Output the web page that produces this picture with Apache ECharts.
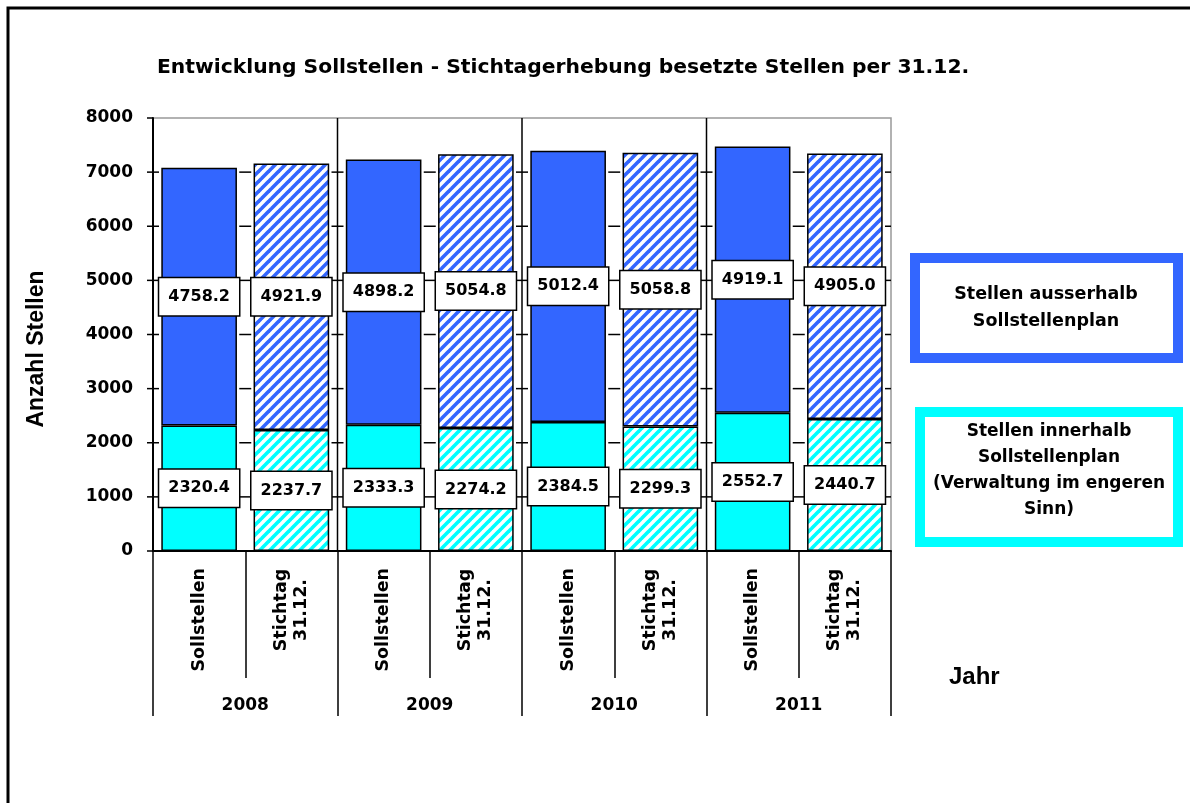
<!doctype html>
<html>
<head>
<meta charset="utf-8">
<title>Entwicklung Sollstellen</title>
<script src="https://cdn.jsdelivr.net/npm/echarts@6/dist/echarts.min.js"></script>
<style>
  html, body { margin: 0; padding: 0; background: #fff; }
  #main { width: 1190px; height: 803px; }
</style>
</head>
<body>
<div id="main"></div>
<script>
// Daten
var jahre = ['2008', '2009', '2010', '2011'];
var arten = ['Sollstellen', 'Stichtag\n31.12.'];
var innerhalb = [2320.4, 2237.7, 2333.3, 2274.2, 2384.5, 2299.3, 2552.7, 2440.7];
var ausserhalb = [4758.2, 4921.9, 4898.2, 5054.8, 5012.4, 5058.8, 4919.1, 4905.0];
var yTicks = [0, 1000, 2000, 3000, 4000, 5000, 6000, 7000, 8000];

var blau = '#3366FF';
var tuerkis = '#00FFFF';
var labelFont = 'DejaVu Sans';
var titleFont = 'Liberation Sans';

// schraffur fuer Stichtag-Balken
function schraffur(farbe) {
    var s = 10;
    var c = document.createElement('canvas');
    c.width = s; c.height = s;
    var ctx = c.getContext('2d');
    ctx.fillStyle = '#fff';
    ctx.fillRect(0, 0, s, s);
    ctx.strokeStyle = farbe;
    ctx.lineWidth = 3.6;
    [-s, 0, s].forEach(function (o) {
        ctx.beginPath();
        ctx.moveTo(o - 1, s + 1);
        ctx.lineTo(o + s + 1, -1);
        ctx.stroke();
    });
    return { image: c, repeat: 'repeat' };
}

var kategorien = [];
jahre.forEach(function () { arten.forEach(function (a) { kategorien.push(a); }); });

function balkenDaten(werte, farbe) {
    var muster = schraffur(farbe);
    return werte.map(function (v, i) {
        return { value: v, itemStyle: { color: i % 2 ? muster : farbe } };
    });
}

var wertLabel = {
    show: true,
    position: 'inside',
    formatter: function (p) { return p.value.toFixed(1); },
    color: '#000',
    fontFamily: labelFont,
    fontWeight: 'bold',
    fontSize: 16,
    backgroundColor: '#fff',
    borderColor: '#000',
    borderWidth: 1.5,
    padding: [11, 9, 10, 9]
};

var myChart = echarts.init(document.getElementById('main'));

var option = {
    animation: false,
    backgroundColor: '#fff',
    title: {
        text: 'Entwicklung Sollstellen - Stichtagerhebung besetzte Stellen per 31.12.',
        left: 152,
        top: 53,
        textStyle: { fontFamily: labelFont, fontWeight: 'bold', fontSize: 20.3, color: '#000' }
    },
    grid: {
        left: 153, right: 299, top: 118, bottom: 252,
        show: true, borderColor: '#999', borderWidth: 1.5
    },
    xAxis: [{
        type: 'category',
        data: kategorien,
        axisLine: { lineStyle: { color: '#000', width: 2 } },
        axisTick: { show: true, length: 127, lineStyle: { color: '#000', width: 1.5 } },
        axisLabel: {
            interval: 0,
            rotate: 90,
            margin: 17,
            formatter: function (v) {
                return v.indexOf('\n') >= 0
                    ? v.split('\n').map(function (s) { return '{z|' + s + '}'; }).join('\n')
                    : '{e|' + v + '}';
            },
            rich: {
                z: { width: 84, align: 'center', fontFamily: labelFont, fontWeight: 'bold', fontSize: 17.5, color: '#000', lineHeight: 20 },
                e: { fontFamily: labelFont, fontWeight: 'bold', fontSize: 17.5, color: '#000' }
            }
        }
    }, {
        type: 'category',
        data: jahre,
        position: 'bottom',
        axisLine: { show: false },
        axisTick: { show: true, length: 165, lineStyle: { color: '#000', width: 1.5 } },
        axisLabel: {
            interval: 0,
            margin: 146,
            fontFamily: labelFont, fontWeight: 'bold', fontSize: 17, color: '#000'
        }
    }],
    yAxis: {
        type: 'value',
        min: 0, max: 8000, interval: 1000,
        axisLine: { show: true, lineStyle: { color: '#000', width: 2 } },
        axisTick: { show: false },
        splitLine: { show: false },
        axisLabel: {
            margin: 20,
            formatter: function (v) { return String(v); },
            fontFamily: labelFont, fontWeight: 'bold', fontSize: 17, color: '#000'
        }
    },
    series: [{
        // kleine Teilstriche an jeder Kategoriegrenze + Jahrestrennlinien
        type: 'custom',
        z: 1,
        silent: true,
        data: yTicks.map(function (v) { return [0, v]; }),
        encode: { x: 0, y: 1 },
        renderItem: function (params, api) {
            var c = api.coord([0, api.value(1)]);
            var bw = api.size([1, 0])[0];
            var links = c[0] - bw / 2;
            var n = kategorien.length;
            var istOben = params.dataIndex === yTicks.length - 1;
            var kinder = [];
            for (var k = 0; k <= n; k++) {
                if (istOben && k > 0) continue;
                var x = links + k * bw;
                var x2 = (k === n || istOben) ? x : x + 6;
                kinder.push({ type: 'line', shape: { x1: x - 6, y1: c[1], x2: x2, y2: c[1] },
                    style: { stroke: '#000', lineWidth: 1.5 } });
            }
            if (params.dataIndex === 0) {
                var oben = api.coord([0, yTicks[yTicks.length - 1]])[1];
                for (var j = 1; j < jahre.length; j++) {
                    var xj = links + j * arten.length * bw;
                    kinder.push({ type: 'line', shape: { x1: xj, y1: c[1], x2: xj, y2: oben },
                        style: { stroke: '#000', lineWidth: 1.5 } });
                }
            }
            return { type: 'group', children: kinder };
        }
    }, {
        name: 'Stellen innerhalb Sollstellenplan',
        type: 'bar',
        stack: 'a',
        barCategoryGap: '18%',
        z: 3,
        itemStyle: { borderColor: '#000', borderWidth: 1.5 },
        label: wertLabel,
        data: balkenDaten(innerhalb, tuerkis)
    }, {
        name: 'Stellen ausserhalb Sollstellenplan',
        type: 'bar',
        stack: 'a',
        z: 3,
        itemStyle: { borderColor: '#000', borderWidth: 1.5 },
        label: wertLabel,
        data: balkenDaten(ausserhalb, blau)
    }],
    graphic: [
        { type: 'rect', shape: { x: 8, y: 8, width: 1400, height: 1000 },
          style: { fill: 'none', stroke: '#000', lineWidth: 3 }, silent: true },
        { type: 'text', x: 37, y: 349, rotation: Math.PI / 2,
          style: { text: 'Anzahl Stellen', align: 'center', verticalAlign: 'middle',
                   fontFamily: titleFont, fontWeight: 'bold', fontSize: 23, fill: '#000' } },
        { type: 'rect', shape: { x: 915, y: 258, width: 263, height: 100 },
          style: { fill: '#fff', stroke: blau, lineWidth: 10 } },
        { type: 'text', x: 1046, y: 308,
          style: { text: 'Stellen ausserhalb\nSollstellenplan', align: 'center', verticalAlign: 'middle',
                   fontFamily: labelFont, fontWeight: 'bold', fontSize: 17.5, lineHeight: 27, fill: '#000' } },
        { type: 'rect', shape: { x: 920, y: 412, width: 258, height: 130 },
          style: { fill: '#fff', stroke: tuerkis, lineWidth: 10 } },
        { type: 'text', x: 1049, y: 471,
          style: { text: 'Stellen innerhalb\nSollstellenplan\n(Verwaltung im engeren\nSinn)', align: 'center', verticalAlign: 'middle',
                   fontFamily: labelFont, fontWeight: 'bold', fontSize: 17, lineHeight: 26, fill: '#000' } },
        { type: 'text', x: 949, y: 677,
          style: { text: 'Jahr', verticalAlign: 'middle',
                   fontFamily: titleFont, fontWeight: 'bold', fontSize: 24, fill: '#000' } }
    ]
};

myChart.setOption(option);
</script>
</body>
</html>
